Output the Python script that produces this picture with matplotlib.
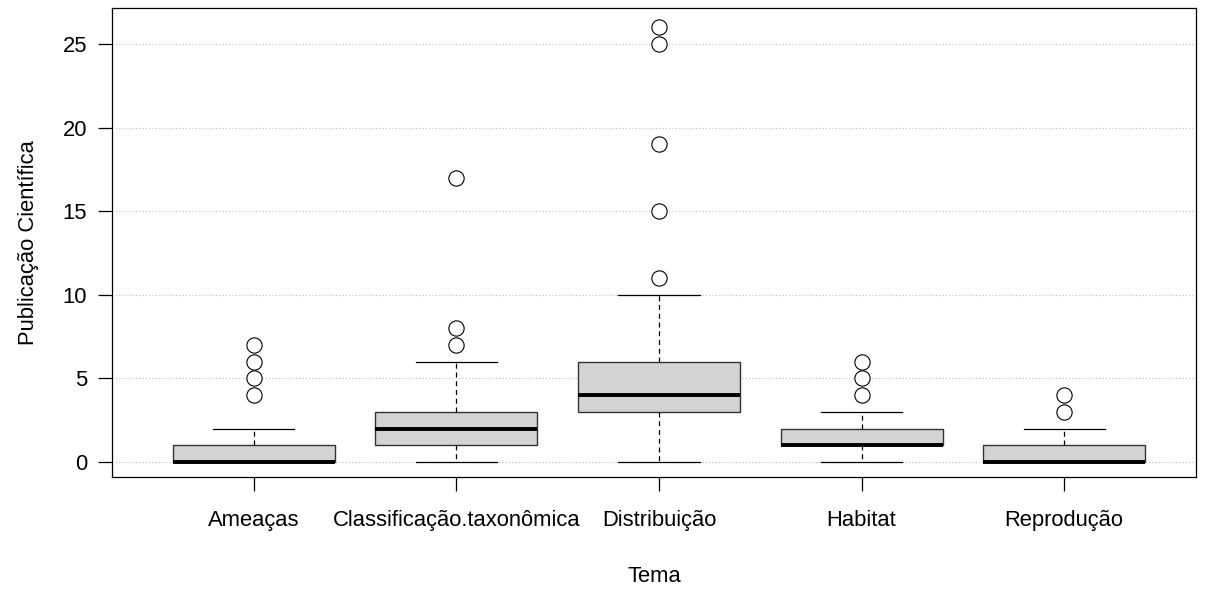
import matplotlib
matplotlib.use("Agg")
import matplotlib.pyplot as plt

plt.rcParams['font.family'] = ['Liberation Sans', 'DejaVu Sans']

temas = ["Ameaças", "Classificação.taxonômica", "Distribuição", "Habitat", "Reprodução"]
q1 = [0, 1, 3, 1, 0]
mediana = [0, 2, 4, 1, 0]
q3 = [1, 3, 6, 2, 1]
bigode_inf = [0, 0, 0, 0, 0]
bigode_sup = [2, 6, 10, 3, 2]
outliers = [
    [4, 5, 6, 7],
    [7, 8, 17],
    [11, 15, 19, 25, 26],
    [4, 5, 6],
    [3, 4],
]

stats = []
for i, nome in enumerate(temas):
    stats.append({
        "label": nome,
        "q1": q1[i],
        "med": mediana[i],
        "q3": q3[i],
        "whislo": bigode_inf[i],
        "whishi": bigode_sup[i],
        "fliers": outliers[i],
    })

fig = plt.figure(figsize=(12.08, 5.92), dpi=100)
ax = fig.add_axes([0.0927, 0.194, 0.8973, 0.7925])

ax.yaxis.grid(True, linestyle=(0, (1, 2)), color="#bbbbbb", linewidth=0.8, zorder=0)
ax.set_axisbelow(True)

ax.bxp(
    stats,
    positions=range(len(temas)),
    widths=0.8,
    capwidths=0.4,
    patch_artist=True,
    boxprops=dict(facecolor="#d3d3d3", edgecolor="#333333", linewidth=1.0),
    medianprops=dict(color="black", linewidth=2.8),
    whiskerprops=dict(color="black", linestyle=(0, (4, 3)), linewidth=0.9),
    capprops=dict(color="black", linewidth=0.9),
    flierprops=dict(marker="o", markersize=11, markerfacecolor="white",
                    markeredgecolor="black", markeredgewidth=0.8),
)

ax.set_xlim(-0.7, 4.65)
ax.set_ylim(-0.9, 27.15)
ax.set_yticks([0, 5, 10, 15, 20, 25])
ax.tick_params(axis="both", direction="out", length=10, width=0.9, labelsize=15.8, pad=8)
ax.tick_params(axis="x", pad=14)

for s in ax.spines.values():
    s.set_linewidth(0.9)
    s.set_color("black")

ax.set_xlabel("Tema", fontsize=15.8, labelpad=25)
ax.set_ylabel("Publicação Científica", fontsize=15.8, labelpad=17)

fig.savefig("out.png", dpi=100)
